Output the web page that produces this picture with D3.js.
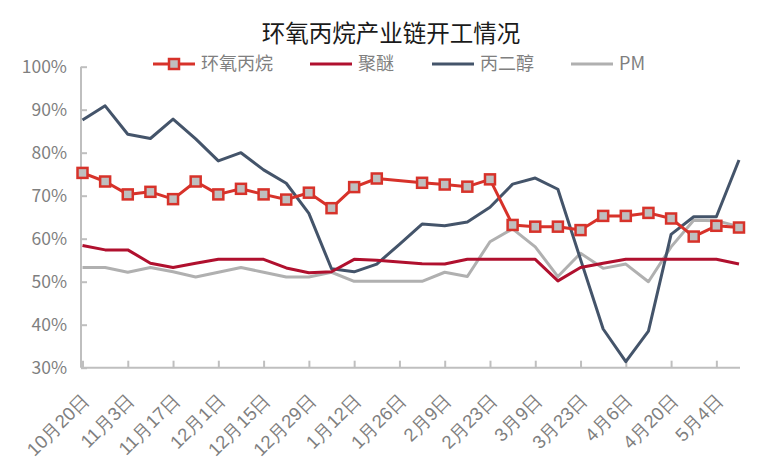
<!DOCTYPE html>
<html><head><meta charset="utf-8">
<script src="https://cdn.jsdelivr.net/npm/d3@7"></script>
<style>
body{margin:0;background:#fff;}
svg{display:block;font-family:"Noto Sans CJK SC","Noto Sans",sans-serif;}
</style></head>
<body><svg id="c" width="783" height="465"></svg>
<script>
const title = "环氧丙烷产业链开工情况";
const categories = ["10月20日","10月27日","11月3日","11月10日","11月17日","11月24日","12月1日","12月8日","12月15日","12月22日","12月29日","1月5日","1月12日","1月19日","1月26日","2月2日","2月9日","2月16日","2月23日","3月2日","3月9日","3月16日","3月23日","3月30日","4月6日","4月13日","4月20日","4月27日","5月4日","5月11日"];
const seriesNames = ["环氧丙烷","聚醚","丙二醇","PM"];
const epoxy = [75.3,73.3,70.3,70.9,69.2,73.3,70.3,71.6,70.3,69.1,70.7,67.1,72.0,74.0,null,73.0,72.6,72.1,73.8,63.2,62.8,62.8,62.0,65.3,65.3,66.0,64.7,60.5,63.0,62.6];
const polyether = [58.4,57.4,57.4,54.3,53.3,54.3,55.2,55.2,55.2,53.2,52.1,52.3,55.2,55.0,54.6,54.2,54.1,55.2,55.2,55.2,55.2,50.2,53.3,54.3,55.2,55.2,55.2,55.2,55.2,54.1];
const propyleneGlycol = [87.6,90.9,84.3,83.3,87.8,83.2,78.1,80.0,76.0,72.9,65.9,53.0,52.3,54.1,58.7,63.4,63.0,63.9,67.3,72.7,74.1,71.5,55.2,39.0,31.4,38.5,61.0,65.1,65.1,78.3];
const pm = [53.3,53.3,52.2,53.3,52.3,51.1,52.2,53.3,52.2,51.1,51.1,52.2,50.1,50.1,50.1,50.1,52.2,51.2,59.3,62.3,58.1,51.2,56.6,53.1,54.1,50.0,58.1,64.3,64.2,62.8];
const yTicks = [30,40,50,60,70,80,90,100];
const xTickIdx = [0,2,4,6,8,10,12,14,16,18,20,22,24,26,28];

const colors = {"环氧丙烷":"#d7322a","聚醚":"#b0102e","丙二醇":"#44546a","PM":"#b0b0b0"};
const markerFill = "#bfbfbf";
const axisColor = "#bfbfbf";
const textColor = "#7f7f7f";

const svg = d3.select("#c");
const padL = 81, padR = 740, padT = 66.7, padB = 367.7;
const x = d3.scaleLinear().domain([0, categories.length-1]).range([82.5, 739]);
const y = d3.scaleLinear().domain([30,100]).range([padB, padT]);

// title
svg.append("text").attr("x",391).attr("y",32).attr("text-anchor","middle")
  .attr("dominant-baseline","central").attr("font-size",23.5).attr("fill","#1a1a1a").text(title);

// y axis
const yAxis = svg.append("g").attr("transform",`translate(${padL},0)`)
  .call(d3.axisLeft(y).tickValues(yTicks).tickFormat(d=>d+"%").tickSize(-6).tickPadding(14));
yAxis.select(".domain").attr("stroke",axisColor).attr("stroke-width",2).attr("d",`M0,${padT}V${padB}`);
yAxis.selectAll(".tick line").attr("stroke",axisColor).attr("stroke-width",2);
yAxis.selectAll(".tick text").attr("fill",textColor).attr("font-size",17.5)
  .attr("font-family","'Noto Sans CJK SC',sans-serif");

// x axis
const xAxis = svg.append("g").attr("transform",`translate(0,${padB})`)
  .call(d3.axisBottom(x).tickValues(xTickIdx).tickFormat(i=>categories[i]).tickSize(-7).tickSizeOuter(0));
xAxis.select(".domain").attr("stroke",axisColor).attr("stroke-width",2).attr("d",`M${padL},0H${padR}`);
xAxis.selectAll(".tick line").attr("stroke",axisColor).attr("stroke-width",2);
xAxis.selectAll(".tick text").attr("fill",textColor).attr("font-size",18.5)
  .attr("text-anchor","end").attr("y",0).attr("dy","0.35em")
  .attr("transform","translate(3,29) rotate(-45)");

// lines
const line = d3.line().x(d=>x(d.i)).y(d=>y(d.v));
function toPts(arr){return arr.map((v,i)=>({i,v})).filter(d=>d.v!=null);}
const seriesData = {"环氧丙烷":epoxy,"聚醚":polyether,"丙二醇":propyleneGlycol,"PM":pm};
["PM","丙二醇","聚醚","环氧丙烷"].forEach(name=>{
  svg.append("path").datum(toPts(seriesData[name])).attr("d",line)
    .attr("fill","none").attr("stroke",colors[name]).attr("stroke-width",3)
    .attr("stroke-linejoin","round");
});
svg.append("g").selectAll("rect").data(toPts(epoxy)).join("rect")
  .attr("x",d=>x(d.i)-5).attr("y",d=>y(d.v)-5).attr("width",10).attr("height",10)
  .attr("fill",markerFill).attr("stroke",colors["环氧丙烷"]).attr("stroke-width",2.5);

// legend
const legendX = [153,310,432,571];
const lg = svg.append("g");
seriesNames.forEach((name,k)=>{
  const g = lg.append("g").attr("transform",`translate(${legendX[k]},64)`);
  g.append("line").attr("x1",0).attr("x2",42).attr("stroke",colors[name]).attr("stroke-width",3);
  if(name==="环氧丙烷"){
    g.append("rect").attr("x",16).attr("y",-5).attr("width",10).attr("height",10)
      .attr("fill",markerFill).attr("stroke",colors[name]).attr("stroke-width",2.5);
  }
  g.append("text").attr("x",48).attr("dy","0.35em").attr("font-size",18).attr("fill",textColor).text(name);
});
</script></body></html>
